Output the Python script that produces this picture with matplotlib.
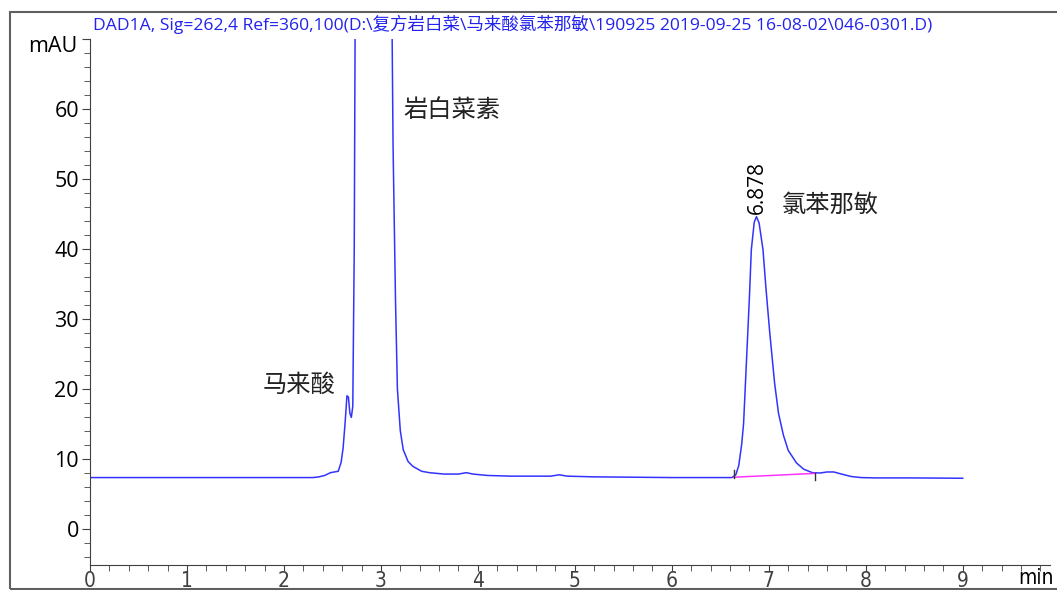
import matplotlib
matplotlib.use("Agg")
import matplotlib.pyplot as plt
from matplotlib.ticker import MultipleLocator
from matplotlib.patches import Rectangle

plt.rcParams['font.family'] = ['Open Sans', 'Noto Sans CJK SC', 'DejaVu Sans']

# chromatogram (min, mAU)
t = [0.0, 1.0, 2.0, 2.3, 2.36, 2.42, 2.48, 2.52, 2.56, 2.59, 2.61, 2.63, 2.65, 2.665,
     2.68, 2.695, 2.71, 2.725, 2.735, 2.75, 2.8, 2.9, 3.0, 3.08, 3.11, 3.125, 3.15,
     3.17, 3.2, 3.23, 3.28, 3.33, 3.42, 3.5, 3.65, 3.8, 3.88, 3.95, 4.1, 4.35, 4.75,
     4.84, 4.92, 5.2, 6.0, 6.62, 6.66, 6.69, 6.72, 6.74, 6.77, 6.80, 6.82, 6.85,
     6.873, 6.9, 6.94, 6.97, 7.01, 7.06, 7.1, 7.15, 7.2, 7.285, 7.36, 7.45,
     7.53, 7.6, 7.67, 7.75, 7.85, 7.95, 8.1, 8.5, 9.0]
mau = [7.3, 7.3, 7.3, 7.3, 7.4, 7.6, 8.0, 8.1, 8.2, 9.5, 11.5, 15.0, 19.0, 18.8,
       16.5, 15.9, 17.5, 40.0, 75.0, 110.0, 130.0, 130.0, 130.0, 110.0, 80.0, 55.0, 33.0,
       20.0, 14.0, 11.3, 9.6, 8.9, 8.2, 8.0, 7.8, 7.8, 8.0, 7.8, 7.6, 7.5, 7.5,
       7.7, 7.5, 7.4, 7.3, 7.3, 7.7, 9.0, 12.0, 15.0, 24.0, 33.0, 39.9, 43.8,
       44.6, 43.7, 39.9, 34.5, 28.0, 20.8, 16.5, 13.4, 11.2, 9.4, 8.5, 8.0,
       7.95, 8.1, 8.1, 7.8, 7.45, 7.3, 7.25, 7.25, 7.2]

# integration baseline of the 6.878 peak
base_t = [6.64, 7.48]
base_y = [7.35, 7.9]

title = "DAD1A, Sig=262,4 Ref=360,100(D:\\复方岩白菜\\马来酸氯苯那敏\\190925 2019-09-25 16-08-02\\046-0301.D)"
peak_labels = [("马来酸", 1.78, 20.6), ("岩白菜素", 3.23, 59.8), ("氯苯那敏", 7.13, 46.3)]

W, H = 1057, 590
fig = plt.figure(figsize=(W / 100, H / 100), dpi=100)
ax = fig.add_axes([90 / W, 1 - 565 / H, 960 / W, (565 - 39) / H])

ax.plot(t, mau, color='#3333ff', lw=1.1)
ax.plot(base_t, base_y, color='#ff33ff', lw=1.1)
ax.plot([base_t[0], base_t[0]], [base_y[0] - 0.1, base_y[0] + 1.0], color='#333333', lw=1)
ax.plot([base_t[1], base_t[1]], [base_y[1] + 0.1, base_y[1] - 1.0], color='#333333', lw=1)

ax.set_xlim(0, 9.9)
ax.set_ylim(-5.2, 70)
for s in ['top', 'right']:
    ax.spines[s].set_visible(False)
for s in ['left', 'bottom']:
    ax.spines[s].set_color('#404040')

ax.set_xticks(range(0, 10))
ax.xaxis.set_minor_locator(MultipleLocator(0.2))
ax.set_yticks([0, 10, 20, 30, 40, 50, 60, 70])
ax.set_yticklabels(['0', '10', '20', '30', '40', '50', '60', ''])
ax.yaxis.set_minor_locator(MultipleLocator(2))
ax.tick_params(axis='both', which='major', colors='#404040', labelcolor='black')
ax.tick_params(axis='y', which='major', length=6, pad=2, labelsize=15.5)
ax.tick_params(axis='y', which='minor', length=4, colors='#404040')
ax.tick_params(axis='x', which='both', length=4, colors='#404040', pad=0)
for lab in ax.get_xticklabels():
    lab.set_family('DejaVu Sans')
    lab.set_stretch('condensed')
    lab.set_fontsize(15)

ax.text(9.76, -5.6, "min", fontsize=15, ha='center', va='top', family='DejaVu Sans', stretch='condensed')
ax.text(-0.13, 68.9, "mAU", fontsize=15.5, ha='right', va='center')

fig.text(93 / W, 1 - 24 / H, title, fontsize=12.6, color='#2222ee', va='center', ha='left')

for txt, x, y in peak_labels:
    ax.text(x, y, txt, fontsize=17.5, family=['Noto Sans CJK SC', 'DejaVu Sans'], ha='left', va='center', color='#222222')
ax.text(6.878, 45.0, "6.878", rotation=90, fontsize=15, ha='center', va='bottom')

fig.patches.append(Rectangle((10 / W, 1 / H), 1.2, 1 - 13 / H, transform=fig.transFigure,
                             fill=False, edgecolor='#606060', lw=1.5))

fig.savefig("out.png", dpi=100)
